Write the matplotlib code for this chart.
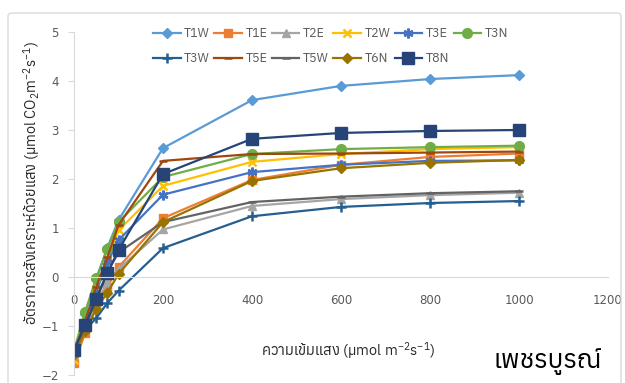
import matplotlib
matplotlib.use("Agg")
import matplotlib.pyplot as plt
from matplotlib import font_manager
from matplotlib.patches import FancyBboxPatch
from fontTools.ttLib import TTFont


def pick_thai_font(candidates):
    # first installed family that has Thai, Latin and the micro sign
    for name in candidates:
        for f in font_manager.fontManager.ttflist:
            if f.name != name:
                continue
            try:
                cmap = TTFont(f.fname, fontNumber=0, lazy=True).getBestCmap()
            except Exception:
                continue
            if all(c in cmap for c in (0x0E2D, 0x41, 0xB5, 0x28)):
                return name
    return "DejaVu Sans"


thai = pick_thai_font(["Anuphan", "IBM Plex Sans Thai", "Noto Sans Thai",
                       "Bai Jamjuree", "Sarabun", "Prompt"])
plt.rcParams["font.family"] = [thai, "DejaVu Sans"]
plt.rcParams["mathtext.default"] = "regular"

light = [0, 25, 50, 75, 100, 200, 400, 600, 800, 1000]
T1W = [-1.55, -0.75, -0.05, 0.60, 1.16, 2.63, 3.61, 3.90, 4.04, 4.12]
T1E = [-1.76, -1.15, -0.60, -0.20, 0.20, 1.20, 1.98, 2.29, 2.45, 2.52]
T2E = [-1.60, -1.05, -0.55, -0.10, 0.16, 0.97, 1.45, 1.59, 1.67, 1.72]
T2W = [-1.70, -1.00, -0.25, 0.35, 0.95, 1.86, 2.35, 2.51, 2.61, 2.65]
T3E = [-1.55, -1.00, -0.30, 0.30, 0.75, 1.68, 2.14, 2.29, 2.37, 2.38]
T3N = [-1.50, -0.71, -0.02, 0.57, 1.12, 2.04, 2.51, 2.61, 2.65, 2.68]
T3W = [-1.50, -1.08, -0.84, -0.53, -0.28, 0.59, 1.24, 1.43, 1.51, 1.55]
T5E = [-1.55, -0.90, -0.20, 0.40, 1.06, 2.37, 2.51, 2.52, 2.54, 2.56]
T5W = [-1.60, -1.00, -0.45, 0.10, 0.50, 1.12, 1.53, 1.64, 1.71, 1.75]
T6N = [-1.60, -1.10, -0.65, -0.32, 0.06, 1.12, 1.96, 2.22, 2.33, 2.39]
T8N = [-1.49, -0.98, -0.45, 0.08, 0.55, 2.10, 2.82, 2.94, 2.98, 3.00]

# name, values, colour, marker, marker size
series = [
    ("T1W", T1W, "#5B9BD5", "D", 5),
    ("T1E", T1E, "#ED7D31", "s", 6),
    ("T2E", T2E, "#A5A5A5", "^", 6),
    ("T2W", T2W, "#FFC000", "x", 6),
    ("T3E", T3E, "#4472C4", (6, 2, 0), 7),
    ("T3N", T3N, "#70AD47", "o", 7),
    ("T3W", T3W, "#255E91", "+", 7),
    ("T5E", T5E, "#9E480E", "_", 6),
    ("T5W", T5W, "#636363", "_", 6),
    ("T6N", T6N, "#997300", "D", 5),
    ("T8N", T8N, "#264478", "s", 8),
]

fig = plt.figure(figsize=(6.25, 3.83), dpi=100)
ax = fig.add_axes([74 / 625, 1 - 375 / 383, (608 - 74) / 625, (375 - 32) / 383])

handles = {}
for name, vals, col, mk, ms in series:
    thin = isinstance(mk, tuple) or mk in ("x", "+", "_")
    (h,) = ax.plot(light, vals, color=col, lw=1.6, marker=mk, ms=ms,
                   mew=1.8 if thin else 1, label=name)
    handles[name] = h

ax.set_xlim(0, 1200)
ax.set_ylim(-2, 5)
ax.set_xticks(range(0, 1201, 200))
ax.set_yticks(range(-2, 6))
ax.spines[["top", "right"]].set_visible(False)
ax.spines["bottom"].set_position(("data", 0))
for s in ("left", "bottom"):
    ax.spines[s].set_color("#D9D9D9")
ax.tick_params(axis="x", length=0, pad=12, labelsize=8.5, labelcolor="#595959")
ax.tick_params(axis="y", length=4, color="#D9D9D9", pad=7, labelsize=8.5,
               labelcolor="#595959")
for lab in ax.get_xticklabels() + ax.get_yticklabels():
    lab.set_family("DejaVu Sans")

# legend laid out row by row as in the original (matplotlib fills columns)
order = ["T1W", "T3W", "T1E", "T5E", "T2E", "T5W", "T2W", "T6N", "T3E", "T8N", "T3N"]
leg = ax.legend([handles[n] for n in order], order, ncol=6, loc="upper left",
                bbox_to_anchor=(148 / 625, 1 - 22 / 383), bbox_transform=fig.transFigure,
                frameon=False, fontsize=9, handlelength=2.2, handletextpad=0.3,
                columnspacing=0.35, labelspacing=1.0, borderaxespad=0)
for t in leg.get_texts():
    t.set_color("#595959")

fig.text(32 / 625, 1 - 183 / 383,
         "อัตราการสังเคราะห์ด้วยแสง (µmol CO$_2$m$^{-2}$s$^{-1}$)",
         rotation=90, ha="center", va="center", fontsize=10.5, color="#262626")
fig.text(348 / 625, 1 - 351 / 383, "ความเข้มแสง (µmol m$^{-2}$s$^{-1}$)",
         ha="center", va="center", fontsize=10.5, color="#262626")
fig.text(548 / 625, 1 - 362 / 383, "เพชรบูรณ์", ha="center", va="center",
         fontsize=19, color="black")

frame = FancyBboxPatch((8 / 625, -0.05), (621 - 8) / 625, 1.05 - 13 / 383,
                       boxstyle="round,pad=0,rounding_size=0.008",
                       transform=fig.transFigure, fill=False,
                       edgecolor="#D9D9D9", lw=1)
fig.patches.append(frame)

fig.savefig("out.png", dpi=100)
